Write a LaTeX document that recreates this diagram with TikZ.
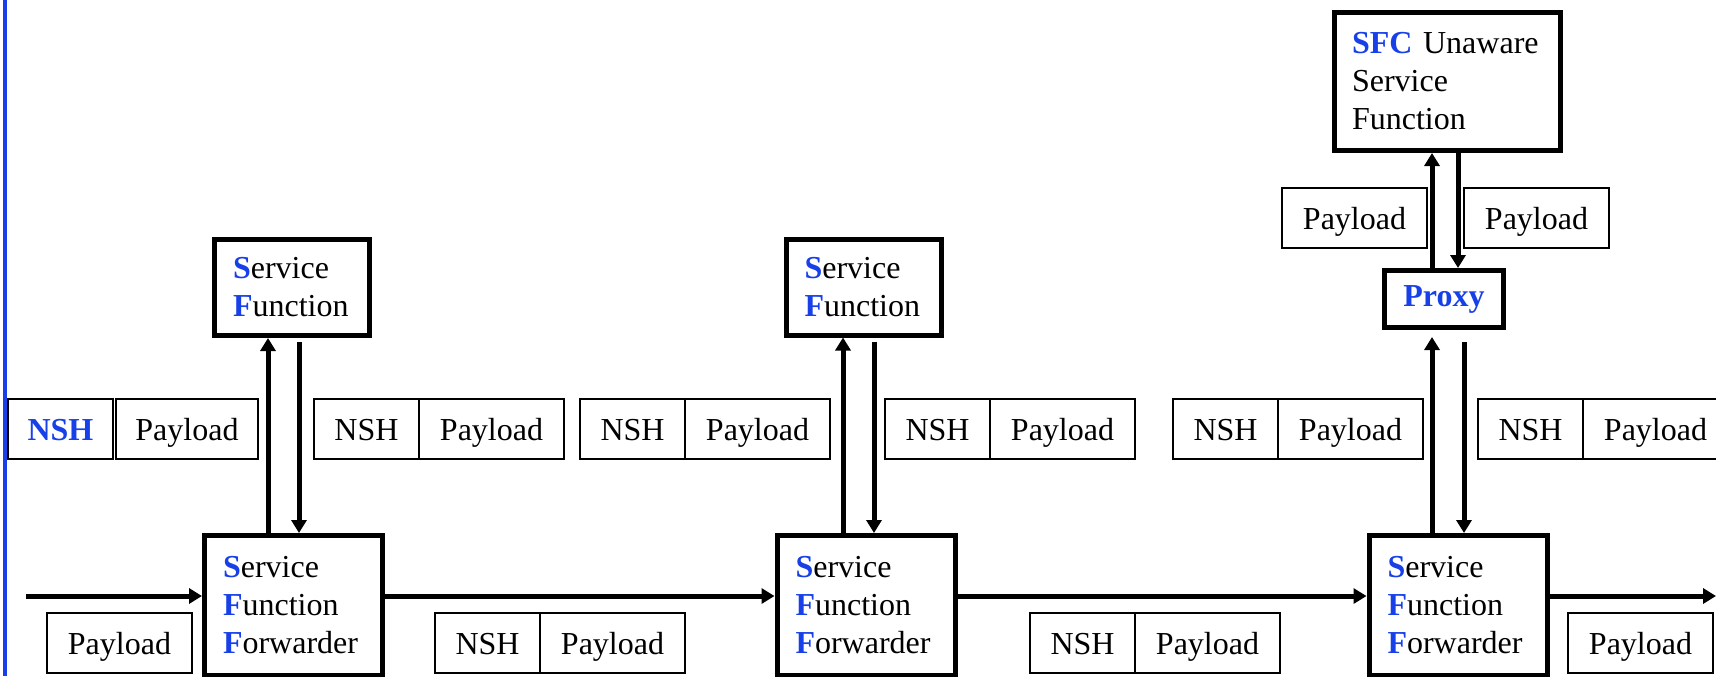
\documentclass[tikz,border=0pt]{standalone}
\usepackage{fontspec}
\setmainfont{Liberation Serif}
\usetikzlibrary{arrows.meta}
\definecolor{sfcblue}{RGB}{24,64,232}
\newcommand{\hl}[1]{\textbf{\color{sfcblue}#1}}
\tikzset{
    block/.style = {draw, rectangle, line width=2.5pt, inner sep=0pt,
        inner xsep=9.25pt, align=left},
    sffblock/.style = {block, minimum width=89pt, minimum height=70pt, text width=70.5pt},
    sfblock/.style = {block, minimum width=77.5pt, minimum height=48pt, text width=59pt},
    pkt/.style = {draw, rectangle, line width=1pt, minimum height=30pt,
        text height=11.5pt, text depth=0pt, inner sep=0pt, outer sep=0pt},
    nsh/.style = {pkt, minimum width=52.5pt},
    pay/.style = {pkt, minimum width=72.5pt},
    arrow/.style = {draw, line width=2.5pt, -{Triangle[length=6.5pt,width=7.5pt]}}
}
\begin{document}
\begin{tikzpicture}[x=0.5pt, y=-0.5pt, node distance=62.5pt, font=\fontsize{16}{19}\selectfont]
    \useasboundingbox (0,0) rectangle (1716,676);
    \clip (0,0) rectangle (1716,676);
    \draw[sfcblue, line width=2pt] (5,0) -- (5,676);
    % forwarders, functions, proxy
    \node [sffblock] (sff1) at (293.5,605.5) {\hl{S}ervice\\\hl{F}unction\\\hl{F}orwarder};
    \node [sffblock] (sff2) at (866,605.5) {\hl{S}ervice\\\hl{F}unction\\\hl{F}orwarder};
    \node [sffblock] (sff3) at (1458,605.5) {\hl{S}ervice\\\hl{F}unction\\\hl{F}orwarder};
    \node [sfblock] (sf1) at (292,287.5) {\hl{S}ervice\\\hl{F}unction};
    \node [sfblock] (sf2) at (863.5,287) {\hl{S}ervice\\\hl{F}unction};
    \node [block, minimum width=59.5pt, minimum height=28.5pt, inner xsep=0pt, align=center] (proxy) at (1444,299) {\hl{Proxy}};
    \node [block, minimum width=113pt, minimum height=69pt, text width=95.5pt, inner xsep=8.75pt] (sfc) at (1447.5,81.5) {\hl{SFC} Unaware\\Service\\Function};
    % packets on the upper row
    \node [nsh, anchor=west] (nsh0) at (8,428.5) {\hl{NSH}};
    \node [pay, minimum width=71pt, right of=nsh0, node distance=63.25pt] (pay0) {Payload};
    \node [nsh, anchor=west] (nsh1) at (314,428.5) {NSH};
    \node [pay, right of=nsh1] (pay1) {Payload};
    \node [nsh, anchor=west] (nsh2) at (580,428.5) {NSH};
    \node [pay, right of=nsh2] (pay2) {Payload};
    \node [nsh, anchor=west] (nsh3) at (885,428.5) {NSH};
    \node [pay, right of=nsh3] (pay3) {Payload};
    \node [nsh, anchor=west] (nsh4) at (1173,428.5) {NSH};
    \node [pay, right of=nsh4] (pay4) {Payload};
    \node [nsh, anchor=west] (nsh5) at (1478,428.5) {NSH};
    \node [pay, right of=nsh5] (pay5) {Payload};
    % packets next to the proxy
    \node [pay, anchor=west] (tpay1) at (1282,217.5) {Payload};
    \node [pay, anchor=west] (tpay2) at (1464,217.5) {Payload};
    % packets on the lower row
    \node [pay, anchor=west] (bpay1) at (47,642.5) {Payload};
    \node [nsh, anchor=west] (bnsh2) at (435,642.5) {NSH};
    \node [pay, right of=bnsh2] (bpay2) {Payload};
    \node [nsh, anchor=west] (bnsh3) at (1030,642.5) {NSH};
    \node [pay, right of=bnsh3] (bpay3) {Payload};
    \node [pay, anchor=west] (bpay4) at (1568,642.5) {Payload};
    % main path
    \coordinate (in) at (26,596);
    \coordinate (out) at (1716,596);
    \draw [arrow] (in) -- (sff1.west |- in);
    \draw [arrow] (sff1.east |- in) -- (sff2.west |- in);
    \draw [arrow] (sff2.east |- in) -- (sff3.west |- in);
    \draw [arrow] (sff3.east |- in) -- (out);
    % up and down
    \coordinate (up1) at (268,0);
    \coordinate (dn1) at (299,0);
    \coordinate (up2) at (843,0);
    \coordinate (dn2) at (874,0);
    \coordinate (up3) at (1432,0);
    \coordinate (dn3) at (1464,0);
    \coordinate (dn4) at (1458,0);
    \draw [arrow] (sff1.north -| up1) -- (sf1.south -| up1);
    \draw [arrow, shorten <=2pt] (sf1.south -| dn1) -- (sff1.north -| dn1);
    \draw [arrow] (sff2.north -| up2) -- (sf2.south -| up2);
    \draw [arrow, shorten <=2pt] (sf2.south -| dn2) -- (sff2.north -| dn2);
    \draw [arrow, shorten >=3.5pt] (sff3.north -| up3) -- (proxy.south -| up3);
    \draw [arrow, shorten <=6pt] (proxy.south -| dn3) -- (sff3.north -| dn3);
    \draw [arrow] (proxy.north -| up3) -- (sfc.south -| up3);
    \draw [arrow] (sfc.south -| dn4) -- (proxy.north -| dn4);
\end{tikzpicture}
\end{document}
